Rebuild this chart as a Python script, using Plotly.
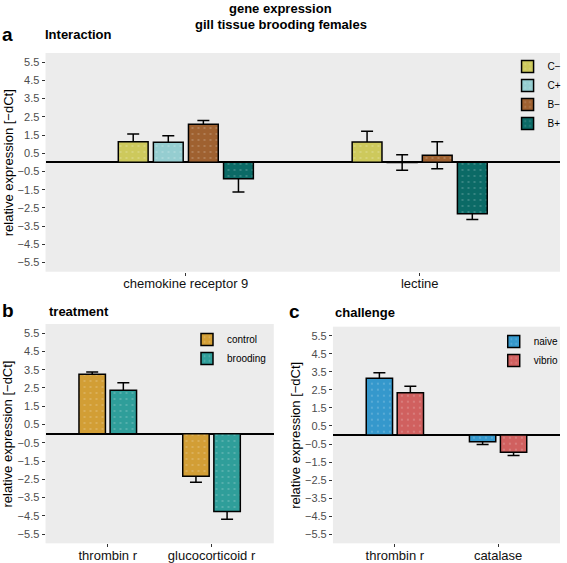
import plotly.graph_objects as go

# ---------------- data ----------------
a_categories = ["chemokine receptor 9", "lectine"]
a_groups = ["C−", "C+", "B−", "B+"]
a_means = {
    "C−": [1.13, 1.12],
    "C+": [1.10, -0.01],
    "B−": [2.09, 0.39],
    "B+": [-0.90, -2.82],
}
a_errors = {
    "C−": [0.42, 0.58],
    "C+": [0.36, 0.43],
    "B−": [0.20, 0.74],
    "B+": [0.73, 0.31],
}

b_categories = ["thrombin r", "glucocorticoid r"]
b_groups = ["control", "brooding"]
b_means = {"control": [3.25, -2.33], "brooding": [2.37, -4.26]}
b_errors = {"control": [0.13, 0.33], "brooding": [0.41, 0.42]}

c_categories = ["thrombin r", "catalase"]
c_groups = ["naive", "vibrio"]
c_means = {"naive": [3.15, -0.38], "vibrio": [2.34, -0.95]}
c_errors = {"naive": [0.30, 0.15], "vibrio": [0.36, 0.19]}

y_tick_values = [5.5, 4.5, 3.5, 2.5, 1.5, 0.5, -0.5, -1.5, -2.5, -3.5, -4.5, -5.5]
y_tick_labels = ["5.5", "4.5", "3.5", "2.5", "1.5", "0.5",
                 "−0.5", "−1.5", "−2.5", "−3.5", "−4.5", "−5.5"]

colors = {
    "C−": "#cdc95c", "C+": "#95cdd0", "B−": "#9f6130", "B+": "#0b6a66",
    "control": "#d29e35", "brooding": "#2f9e9a",
    "naive": "#3598cc", "vibrio": "#d0605f",
}

W, H = 567, 563
FONT = "Liberation Sans, Arial, Helvetica, sans-serif"

fig = go.Figure()


def add_panel(cats, groups, means, errors, xa, ya, legend):
    n = len(groups)
    step = 0.6 / n
    bw = step * 0.85
    offs = [-0.3 + i * step + (step - bw) / 2 for i in range(n)]
    # error bars first (drawn beneath the filled bars)
    for i, g in enumerate(groups):
        fig.add_trace(go.Bar(
            x=cats, y=means[g], offset=offs[i], width=bw,
            marker=dict(color="rgba(0,0,0,0)", line=dict(width=0)),
            error_y=dict(type="data", array=errors[g], color="black",
                         thickness=1.5, width=6),
            xaxis=xa, yaxis=ya, showlegend=False, hoverinfo="skip",
        ))
    for i, g in enumerate(groups):
        fig.add_trace(go.Bar(
            x=cats, y=means[g], offset=offs[i], width=bw, name=g,
            marker=dict(color=colors[g], line=dict(color="black", width=1.5),
                        pattern=dict(shape=".", fgcolor="#ffffff", fgopacity=0.22,
                                     size=6, solidity=0.1, fillmode="overlay")),
            xaxis=xa, yaxis=ya, legend=legend, showlegend=True,
        ))


add_panel(a_categories, a_groups, a_means, a_errors, "x", "y", "legend")
add_panel(b_categories, b_groups, b_means, b_errors, "x2", "y2", "legend2")
add_panel(c_categories, c_groups, c_means, c_errors, "x3", "y3", "legend3")


def px_x(v):
    return v / W


def px_y(v):
    return 1 - v / H


panels = {
    "": dict(x=(46, 566), y=(53, 271.7)),
    "2": dict(x=(46, 276.7), y=(324, 543.3)),
    "3": dict(x=(336.5, 566), y=(326.7, 543.3)),
}

xcommon = dict(type="category", range=[-0.6, 1.6], showgrid=False, zeroline=False,
               showline=False, ticks="outside", ticklen=3, tickwidth=1,
               tickcolor="#333333", ticklabelstandoff=-3,
               tickfont=dict(family=FONT, size=13, color="#111111"))
ycommon = dict(range=[-6, 6], showgrid=False, zeroline=True, zerolinecolor="black",
               zerolinewidth=1.5, showline=False, ticks="outside", ticklen=3,
               tickwidth=1, tickcolor="#333333", tickvals=y_tick_values,
               ticktext=y_tick_labels,
               tickfont=dict(family=FONT, size=11, color="#4d4d4d"))

layout_axes = {}
for k, p in panels.items():
    xd = [px_x(p["x"][0]), px_x(p["x"][1])]
    yd = [px_y(p["y"][1]), px_y(p["y"][0])]
    layout_axes["xaxis" + k] = dict(xcommon, domain=xd, anchor="y" + k)
    layout_axes["yaxis" + k] = dict(ycommon, domain=yd, anchor="x" + k)

legend_common = dict(bgcolor="rgba(0,0,0,0)", borderwidth=0,
                     font=dict(family=FONT, size=10, color="black"),
                     xanchor="left", yanchor="top", traceorder="normal",
                     itemclick=False, itemdoubleclick=False, tracegroupgap=0)

annotations = []
# figure title
annotations.append(dict(text="<b>gene expression</b>", x=0.5, y=px_y(8.5), xref="paper",
                        yref="paper", showarrow=False,
                        font=dict(family=FONT, size=13, color="black"),
                        xanchor="center", yanchor="middle"))
annotations.append(dict(text="<b>gill tissue brooding females</b>", x=0.5, y=px_y(24.5),
                        xref="paper", yref="paper", showarrow=False,
                        font=dict(family=FONT, size=13, color="black"),
                        xanchor="center", yanchor="middle"))
# panel letters and titles
for letter, lx, ly, title, tx in [("a", 0, 34, "Interaction", 43),
                                  ("b", 0, 310, "treatment", 47),
                                  ("c", 290, 311, "challenge", 337)]:
    annotations.append(dict(text="<b>%s</b>" % letter, x=px_x(lx), y=px_y(ly), xref="paper",
                            yref="paper", showarrow=False, xanchor="left",
                            yanchor="middle", font=dict(family=FONT, size=19, color="black")))
    annotations.append(dict(text="<b>%s</b>" % title, x=px_x(tx), y=px_y(ly + 1),
                            xref="paper", yref="paper", showarrow=False,
                            xanchor="left", yanchor="middle",
                            font=dict(family=FONT, size=13, color="black")))
# y-axis titles
for cx, p in [(8, panels[""]), (8, panels["2"]), (298, panels["3"])]:
    annotations.append(dict(text="relative expression [−dCt]", x=px_x(cx),
                            y=px_y((p["y"][0] + p["y"][1]) / 2), xref="paper",
                            yref="paper", showarrow=False, textangle=-90,
                            xanchor="center", yanchor="middle",
                            font=dict(family=FONT, size=13, color="black")))

fig.update_layout(
    width=W, height=H, margin=dict(l=0, r=0, t=0, b=0),
    paper_bgcolor="white", plot_bgcolor="#ececec",
    barmode="overlay", showlegend=True,
    font=dict(family=FONT, color="black"),
    legend=dict(legend_common, x=px_x(513), y=px_y(52)),
    legend2=dict(legend_common, x=px_x(189), y=px_y(325)),
    legend3=dict(legend_common, x=px_x(499), y=px_y(327)),
    annotations=annotations,
    **layout_axes,
)

fig.write_html(
    "out.html",
    config={"displayModeBar": False},
    post_script="document.body.style.margin='0px';document.body.style.padding='0px';",
)
